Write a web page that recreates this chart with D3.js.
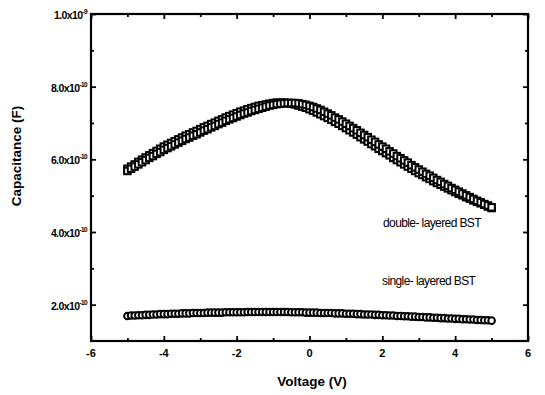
<!DOCTYPE html>
<html>
<head>
<meta charset="utf-8">
<script src="https://cdn.jsdelivr.net/npm/d3@7"></script>
<style>
  body { margin: 0; background: #fff; }
  svg text { font-family: "Liberation Sans", Arial, sans-serif; fill: #000; }
</style>
</head>
<body>
<svg id="chart" width="545" height="395"></svg>
<script>
// Voltage sweep grid (V)
const voltage = [
  -5.0,-4.9,-4.8,-4.7,-4.6,-4.5,-4.4,-4.3,-4.2,-4.1,
  -4.0,-3.9,-3.8,-3.7,-3.6,-3.5,-3.4,-3.3,-3.2,-3.1,
  -3.0,-2.9,-2.8,-2.7,-2.6,-2.5,-2.4,-2.3,-2.2,-2.1,
  -2.0,-1.9,-1.8,-1.7,-1.6,-1.5,-1.4,-1.3,-1.2,-1.1,
  -1.0,-0.9,-0.8,-0.7,-0.6,-0.5,-0.4,-0.3,-0.2,-0.1,
  0.0,0.1,0.2,0.3,0.4,0.5,0.6,0.7,0.8,0.9,
  1.0,1.1,1.2,1.3,1.4,1.5,1.6,1.7,1.8,1.9,
  2.0,2.1,2.2,2.3,2.4,2.5,2.6,2.7,2.8,2.9,
  3.0,3.1,3.2,3.3,3.4,3.5,3.6,3.7,3.8,3.9,
  4.0,4.1,4.2,4.3,4.4,4.5,4.6,4.7,4.8,4.9,
  5.0
];

// Capacitance in units of 1e-10 F
const doubleForward = [
  5.74,5.80,5.86,5.93,5.99,6.05,6.11,6.17,6.23,6.29,
  6.35,6.40,6.45,6.50,6.55,6.60,6.65,6.69,6.74,6.78,
  6.83,6.88,6.92,6.97,7.01,7.06,7.10,7.15,7.19,7.23,
  7.27,7.31,7.34,7.38,7.41,7.44,7.47,7.49,7.51,7.53,
  7.55,7.56,7.56,7.56,7.55,7.53,7.51,7.48,7.45,7.42,
  7.38,7.34,7.29,7.24,7.19,7.14,7.09,7.03,6.98,6.92,
  6.86,6.80,6.74,6.68,6.61,6.55,6.49,6.42,6.36,6.29,
  6.23,6.17,6.11,6.04,5.98,5.92,5.86,5.80,5.74,5.68,
  5.62,5.57,5.51,5.46,5.40,5.35,5.30,5.25,5.20,5.15,
  5.10,5.05,5.01,4.96,4.92,4.87,4.83,4.79,4.75,4.70,
  4.66
];

const doubleReverse = [
  5.68,5.74,5.80,5.86,5.92,5.98,6.04,6.09,6.15,6.20,
  6.26,6.31,6.36,6.41,6.46,6.51,6.56,6.60,6.65,6.69,
  6.74,6.79,6.83,6.88,6.92,6.97,7.01,7.06,7.10,7.14,
  7.18,7.22,7.26,7.29,7.33,7.36,7.39,7.42,7.45,7.48,
  7.50,7.52,7.53,7.54,7.55,7.55,7.55,7.54,7.52,7.50,
  7.47,7.44,7.40,7.36,7.31,7.26,7.21,7.15,7.10,7.04,
  6.98,6.92,6.86,6.80,6.73,6.67,6.61,6.54,6.48,6.41,
  6.35,6.29,6.22,6.16,6.09,6.03,5.97,5.91,5.84,5.78,
  5.72,5.66,5.60,5.55,5.49,5.43,5.38,5.32,5.27,5.21,
  5.16,5.11,5.06,5.01,4.96,4.91,4.86,4.82,4.77,4.73,
  4.68
];

const singleLayer = [
  1.69,1.70,1.70,1.71,1.71,1.72,1.72,1.73,1.73,1.74,
  1.74,1.74,1.75,1.75,1.75,1.76,1.76,1.76,1.77,1.77,
  1.77,1.77,1.78,1.78,1.78,1.78,1.78,1.79,1.79,1.79,
  1.79,1.79,1.79,1.80,1.80,1.80,1.80,1.80,1.80,1.80,
  1.80,1.80,1.80,1.80,1.80,1.79,1.79,1.79,1.79,1.78,
  1.78,1.78,1.78,1.77,1.77,1.77,1.77,1.76,1.76,1.76,
  1.75,1.75,1.75,1.74,1.74,1.73,1.73,1.73,1.72,1.72,
  1.71,1.71,1.70,1.70,1.69,1.69,1.68,1.68,1.67,1.67,
  1.66,1.66,1.65,1.65,1.64,1.64,1.63,1.63,1.62,1.62,
  1.61,1.61,1.60,1.60,1.59,1.59,1.58,1.58,1.57,1.57,
  1.56
];

const xMajor = [-6, -4, -2, 0, 2, 4, 6];
const xMinor = [-5, -3, -1, 1, 3, 5];
const yMajorLabels = [
  { v: 2, base: "2.0x10", exp: "-10" },
  { v: 4, base: "4.0x10", exp: "-10" },
  { v: 6, base: "6.0x10", exp: "-10" },
  { v: 8, base: "8.0x10", exp: "-10" },
  { v: 10, base: "1.0x10", exp: "-9" }
];
const yMinor = [3, 5, 7, 9];

const svg = d3.select("#chart");
const plot = { left: 91, right: 528, top: 14, bottom: 341 };

const x = d3.scaleLinear().domain([-6, 6]).range([plot.left, plot.right]);
const y = d3.scaleLinear().domain([1, 10]).range([plot.bottom, plot.top]);

// axes with inward ticks on all four sides
const yMajor = yMajorLabels.map(d => d.v);
function addAxis(axisFn, scale, vals, size, transform) {
  svg.append("g")
    .attr("transform", transform)
    .call(axisFn(scale).tickValues(vals).tickSize(size).tickFormat(""))
    .call(g => g.select(".domain").remove())
    .selectAll("line").attr("stroke", "#000").attr("stroke-width", 1.8);
}
addAxis(d3.axisBottom, x, xMajor, -5, `translate(0,${plot.bottom})`);
addAxis(d3.axisBottom, x, xMinor, -3, `translate(0,${plot.bottom})`);
addAxis(d3.axisTop, x, xMajor, -5, `translate(0,${plot.top})`);
addAxis(d3.axisTop, x, xMinor, -3, `translate(0,${plot.top})`);
addAxis(d3.axisLeft, y, yMajor, -5, `translate(${plot.left},0)`);
addAxis(d3.axisLeft, y, yMinor, -3, `translate(${plot.left},0)`);
addAxis(d3.axisRight, y, yMajor, -5, `translate(${plot.right},0)`);
addAxis(d3.axisRight, y, yMinor, -3, `translate(${plot.right},0)`);

svg.append("rect")
  .attr("x", plot.left).attr("y", plot.top)
  .attr("width", plot.right - plot.left).attr("height", plot.bottom - plot.top)
  .attr("fill", "none").attr("stroke", "#000").attr("stroke-width", 2.2);

// tick labels
svg.append("g").selectAll("text")
  .data(xMajor)
  .join("text")
  .attr("x", d => x(d))
  .attr("y", 357)
  .attr("text-anchor", "middle")
  .attr("font-size", 11)
  .attr("font-weight", "bold")
  .text(d => d);

const yl = svg.append("g").selectAll("text")
  .data(yMajorLabels)
  .join("text")
  .attr("x", 87)
  .attr("y", d => y(d.v) + 5)
  .attr("text-anchor", "end")
  .attr("font-size", 10.5)
  .attr("font-weight", "bold")
  .attr("letter-spacing", -0.6);
yl.append("tspan").text(d => d.base);
yl.append("tspan").attr("dy", -5).attr("font-size", 6.5).text(d => d.exp);

// axis titles
svg.append("text")
  .attr("x", 312).attr("y", 386)
  .attr("text-anchor", "middle")
  .attr("font-size", 13.5).attr("font-weight", "bold")
  .text("Voltage (V)");

svg.append("text")
  .attr("transform", "translate(21,156) rotate(-90)")
  .attr("text-anchor", "middle")
  .attr("font-size", 13.5).attr("font-weight", "bold")
  .text("Capacitance (F)");

// data markers
const sq = 6.5;
function squares(vals) {
  svg.append("g").selectAll("rect")
    .data(vals)
    .join("rect")
    .attr("x", (d, i) => x(voltage[i]) - sq / 2)
    .attr("y", d => y(d) - sq / 2)
    .attr("width", sq).attr("height", sq)
    .attr("fill", "#fff").attr("stroke", "#000").attr("stroke-width", 2);
}
squares(doubleForward);
squares(doubleReverse);

svg.append("g").selectAll("circle")
  .data(singleLayer)
  .join("circle")
  .attr("cx", (d, i) => x(voltage[i]))
  .attr("cy", d => y(d))
  .attr("r", 3.3)
  .attr("fill", "#fff").attr("stroke", "#000").attr("stroke-width", 2);

// annotations
svg.append("text")
  .attr("x", 383).attr("y", 227)
  .attr("font-size", 12).attr("letter-spacing", -0.6)
  .text("double- layered BST");
svg.append("text")
  .attr("x", 382).attr("y", 285)
  .attr("font-size", 12).attr("letter-spacing", -0.6)
  .text("single- layered BST");
</script>
</body>
</html>
